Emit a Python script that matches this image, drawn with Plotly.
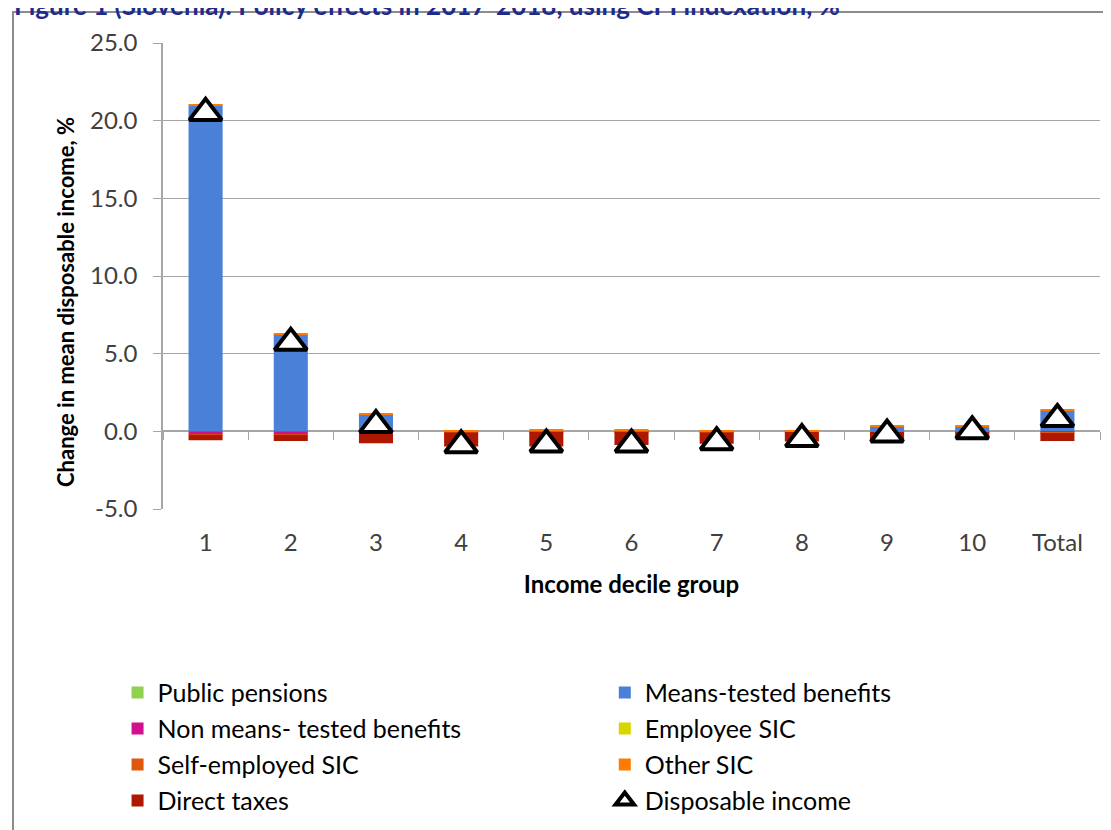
#%%
import plotly.graph_objects as go

#%%
# (values in %)
groups = ["1", "2", "3", "4", "5", "6", "7", "8", "9", "10", "Total"]

public_pensions = [0, 0, 0, 0, 0, 0, 0, 0, 0, 0, 0]
means_tested = [21.0, 6.25, 1.1, 0.0, 0.03, 0.03, 0.0, 0.0, 0.28, 0.28, 1.35]
non_means_tested = [-0.2, -0.2, -0.15, -0.05, -0.03, -0.03, -0.05, -0.03, -0.03, -0.03, -0.08]
employee_sic = [0, 0, 0, 0, 0.02, 0.02, 0, 0, 0, 0, 0]
self_employed_sic = [-0.02, -0.02, -0.02, -0.02, -0.02, -0.02, -0.02, -0.02, -0.02, -0.02, -0.02]
other_sic = [0.06, 0.05, 0.05, 0.08, 0.05, 0.05, 0.08, 0.08, 0.1, 0.1, 0.06]
direct_taxes = [-0.36, -0.4, -0.6, -0.9, -0.92, -0.83, -0.73, -0.6, -0.45, -0.35, -0.53]
disposable_income = [20.5, 5.7, 0.4, -0.9, -0.85, -0.85, -0.7, -0.5, -0.2, 0.0, 0.8]

y_ticks = [-5, 0, 5, 10, 15, 20, 25]
y_ticklabels = ["-5.0", "0.0", "5.0", "10.0", "15.0", "20.0", "25.0"]

title_text = "Figure 1 (Slovenia): Policy effects in 2017-2018, using CPI indexation, %"

#%%
bars = [
    ("Public pensions", public_pensions, "#92D050", "legend"),
    ("Means-tested benefits", means_tested, "#4A80D8", "legend2"),
    ("Non means- tested benefits", non_means_tested, "#D0108F", "legend"),
    ("Employee SIC", employee_sic, "#D6D600", "legend2"),
    ("Self-employed SIC", self_employed_sic, "#E0580E", "legend"),
    ("Other SIC", other_sic, "#FF7A00", "legend2"),
    ("Direct taxes", direct_taxes, "#AE1800", "legend"),
]

fig = go.Figure()

# empty trace so the zero-crossing category axis (x2) gets drawn
fig.add_trace(go.Scatter(x=groups, y=[None] * len(groups), xaxis="x2",
                         showlegend=False, hoverinfo="skip"))

for i, (name, vals, col, leg) in enumerate(bars):
    fig.add_trace(go.Bar(
        x=groups, y=vals, name=name, marker_color=col, marker_line_width=0,
        width=0.4, legend=leg, legendgroup=name, legendrank=i,
    ))

fig.add_trace(go.Scatter(
    x=groups, y=disposable_income, name="Disposable income", mode="markers",
    marker=dict(symbol="triangle-up", size=28, color="white",
                line=dict(color="black", width=4)),
    legend="legend2", legendgroup="di", legendrank=10,
))

font = "Lato, 'Open Sans', sans-serif"
grey = "#A6A6A6"
leg_font = dict(size=25, color="#000000")

# the page puts the figure 8px in from the top-left corner
fig.update_layout(
    width=1111, height=830,
    margin=dict(l=155, r=19, t=35, b=329, autoexpand=False),
    plot_bgcolor="white", paper_bgcolor="white",
    barmode="relative",
    font=dict(family=font, size=24, color="#404040"),
    showlegend=True,
    legend=dict(x=-0.0485, y=-0.345, xanchor="left", yanchor="top",
                font=leg_font, tracegroupgap=0.5, itemwidth=30,
                bgcolor="rgba(0,0,0,0)"),
    legend2=dict(x=0.4715, y=-0.345, xanchor="left", yanchor="top",
                 font=leg_font, tracegroupgap=0.5, itemwidth=30,
                 bgcolor="rgba(0,0,0,0)"),
    xaxis=dict(type="category", categoryarray=groups, range=[-0.5, 10.5],
               showline=False, ticks="", showgrid=False, zeroline=False,
               ticklabelstandoff=17,
               title=dict(text="<b>Income decile group</b>",
                          font=dict(size=24, color="#000000"), standoff=21)),
    xaxis2=dict(type="category", categoryarray=groups, range=[-0.5, 10.5],
                overlaying="x", anchor="free", position=78 / 466,
                showticklabels=False, ticks="outside", tickson="boundaries",
                ticklen=8, tickcolor=grey, showline=True, linecolor=grey,
                linewidth=1.5, showgrid=False, zeroline=False,
                layer="below traces"),
    yaxis=dict(range=[-5, 25], tickvals=y_ticks, ticktext=y_ticklabels,
               showgrid=True, gridcolor=grey, gridwidth=1, showline=True,
               linecolor=grey, linewidth=1.5, ticks="outside", ticklen=8,
               tickcolor=grey, zeroline=False, ticklabelstandoff=11),
)

# y axis title, sitting a little below the plot centre as in the source
fig.add_annotation(text="<b>Change in mean disposable income, %</b>",
                   xref="paper", yref="paper", x=-98 / 937, y=207 / 466,
                   xanchor="center", yanchor="middle",
                   textangle=-90, showarrow=False,
                   font=dict(size=22, color="#000000", family=font))

# outer frame of the chart area
fig.add_shape(type="rect", xref="paper", yref="paper",
              x0=-150 / 937, x1=952 / 937, y0=-326 / 466, y1=497 / 466,
              line=dict(color="#8C8C8C", width=2), fillcolor="rgba(0,0,0,0)",
              layer="below")

# title, cut off at the top edge as in the source image
fig.add_annotation(text="<b>" + title_text + "</b>", xref="paper", yref="paper",
                   x=-151 / 937, y=504 / 466, xanchor="left", yanchor="middle",
                   showarrow=False, font=dict(size=26, color="#1E2A8C", family=font))

fig.write_html("out.html")
